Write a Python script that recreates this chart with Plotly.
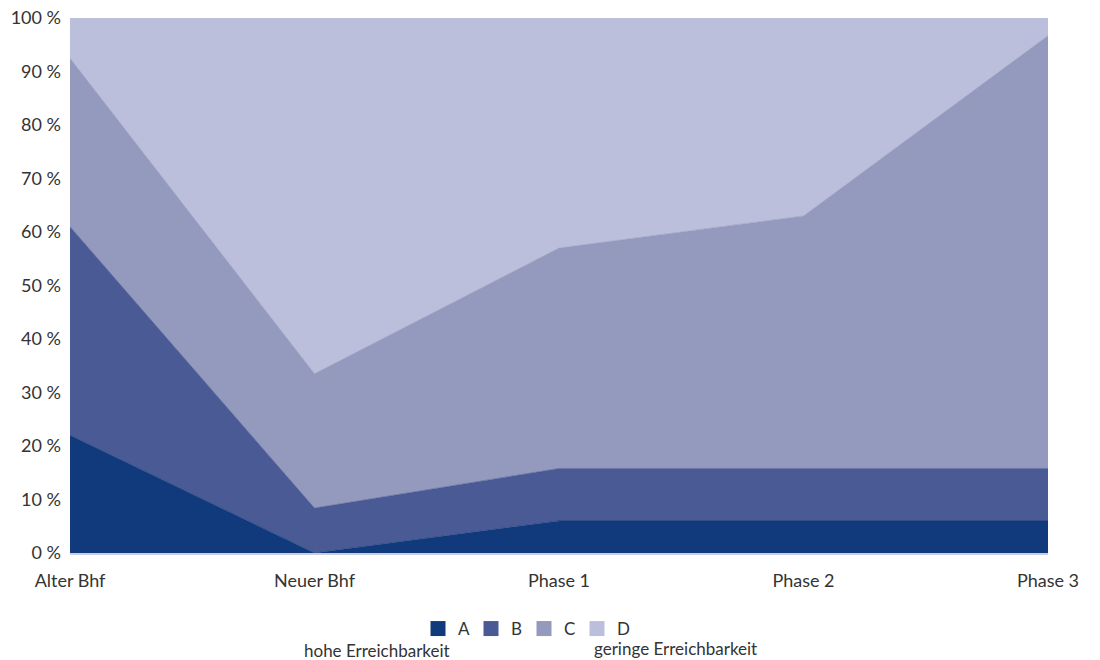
import plotly.graph_objects as go

categories = ["Alter Bhf", "Neuer Bhf", "Phase 1", "Phase 2", "Phase 3"]
series_names = ["A", "B", "C", "D"]
a_vals = [22, 0, 6, 6, 6]
b_vals = [39, 8.4, 9.8, 9.8, 9.8]
c_vals = [31.5, 25.1, 41.2, 47.2, 80.9]
d_vals = [7.5, 66.5, 43, 37, 3.5]
colors = ["#103a7c", "#4a5a94", "#9499be", "#bcbfdb"]
y_ticks = [0, 10, 20, 30, 40, 50, 60, 70, 80, 90, 100]
y_tick_labels = [f"{v} %" for v in y_ticks]

L, R, T, B = 70, 52, 18, 107
W, H = 1100, 660
plot_w = W - L - R
plot_h = H - T - B


def px_to_paper(px, py):
    return (px - L) / plot_w, (H - B - py) / plot_h


fig = go.Figure()
xs = list(range(len(categories)))
for name, vals, col in zip(series_names, [a_vals, b_vals, c_vals, d_vals], colors):
    fig.add_trace(go.Scatter(
        x=xs, y=vals, name=name, mode="lines", stackgroup="one",
        line=dict(width=0.6, color=col), fillcolor=col,
        hoverinfo="skip", showlegend=False,
    ))
# legend entries with square symbols
for name, col in zip(series_names, colors):
    fig.add_trace(go.Scatter(
        x=[None], y=[None], name=name, mode="markers",
        marker=dict(symbol="square", size=15, color=col),
        showlegend=True, hoverinfo="skip",
    ))

font_family = "Lato, 'Open Sans', sans-serif"
lx, ly = px_to_paper(524, 611)
fig.update_layout(
    width=W, height=H,
    margin=dict(l=L, r=R, t=T, b=B, autoexpand=False),
    paper_bgcolor="white", plot_bgcolor="white",
    font=dict(family=font_family, size=18, color="#333333"),
    showlegend=True,
    legend=dict(orientation="h", x=lx, xanchor="center", y=ly, yanchor="top",
                font=dict(size=17, color="#333333"), itemwidth=30,
                entrywidth=8, entrywidthmode="pixels",
                traceorder="normal", tracegroupgap=0),
    xaxis=dict(range=[0, 4], tickvals=xs, ticktext=categories, showgrid=False,
               zeroline=False, showline=True, linecolor="#c9cfdc", linewidth=2,
               ticks="", ticklabelstandoff=10, automargin=False),
    yaxis=dict(range=[0, 100], tickvals=y_ticks, ticktext=y_tick_labels, showgrid=False,
               zeroline=False, showline=False, ticks="", ticklabelstandoff=8,
               automargin=False),
)
ax1, ay1 = px_to_paper(377, 650)
ax2, ay2 = px_to_paper(675, 648)
fig.add_annotation(text="hohe Erreichbarkeit", x=ax1, y=ay1, xref="paper", yref="paper",
                   xanchor="center", yanchor="middle",
                   showarrow=False, font=dict(size=17, color="#333333"))
fig.add_annotation(text="geringe Erreichbarkeit", x=ax2, y=ay2, xref="paper", yref="paper",
                   xanchor="center", yanchor="middle",
                   showarrow=False, font=dict(size=17, color="#333333"))

fig.write_html("out.html", config={"displayModeBar": False},
               post_script="document.body.style.margin='0';")
